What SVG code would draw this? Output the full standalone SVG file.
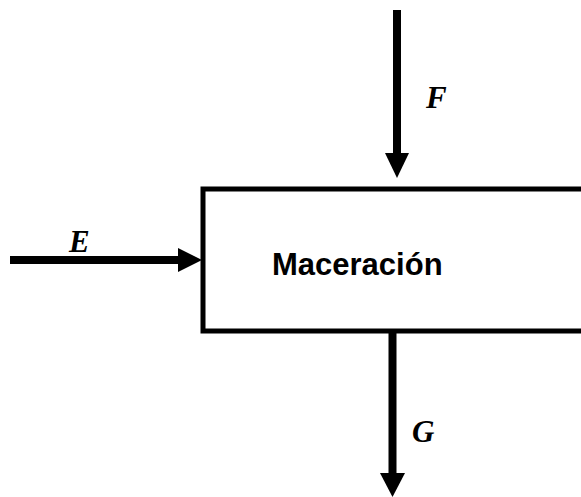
<svg xmlns="http://www.w3.org/2000/svg" width="581" height="497" viewBox="0 0 581 497">
<style>
.shaft{stroke:#000;stroke-width:8;fill:none}
.head{fill:#000}
.lbl{font-family:"Liberation Serif","Times New Roman",serif;font-weight:bold;font-style:italic;font-size:31px;fill:#000}
.box{fill:#fff;stroke:#000;stroke-width:5}
.name{font-family:"Liberation Sans",Arial,sans-serif;font-weight:bold;font-size:31px;fill:#000}
</style>
<rect width="581" height="497" fill="#fff"/>
<g id="maceracion">
<rect class="box" x="203" y="189" width="400" height="142"/>
<text class="name" x="272" y="275">Maceración</text>
</g>
<g id="connectors">
<line class="shaft" x1="397" y1="10" x2="397" y2="156"/>
<polygon class="head" points="385,153 409,153 397,178"/>
<line class="shaft" x1="10" y1="260" x2="181" y2="260"/>
<polygon class="head" points="178,248 178,272 202,260"/>
<line class="shaft" x1="392.5" y1="333" x2="392.5" y2="476"/>
<polygon class="head" points="380,473 405,473 392.5,497"/>
</g>
<g id="labels">
<text class="lbl" x="426" y="108">F</text>
<text class="lbl" x="69" y="252">E</text>
<text class="lbl" x="412" y="442">G</text>
</g>
</svg>
